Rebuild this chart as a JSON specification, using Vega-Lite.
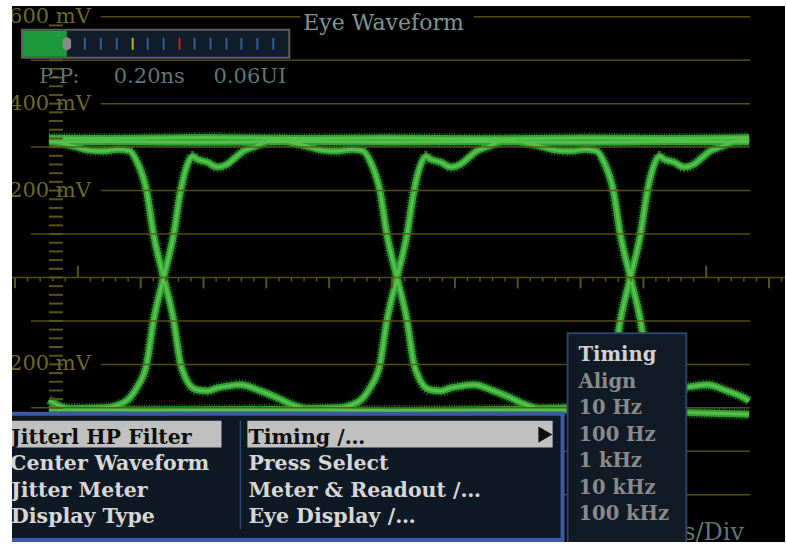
{
"$schema":"https://vega.github.io/schema/vega-lite/v6.json",
"width":786,"height":546,
"autosize":{"type":"fit","contains":"padding"},
"padding":{"left":11,"top":6,"right":0,"bottom":1},
"background":"white",
"config":{"view":{"fill":"black","stroke":null}},
"datasets":{
"traces":[
{"id":"TA","t":0.540,"v":321},{"id":"TA","t":1.5,"v":320},{"id":"TA","t":3.0,"v":322},{"id":"TA","t":4.5,"v":320},{"id":"TA","t":6.0,"v":321},{"id":"TA","t":7.5,"v":319},{"id":"TA","t":9.0,"v":321},{"id":"TA","t":10.5,"v":320},{"id":"TA","t":11.683,"v":322},
{"id":"TB","t":0.540,"v":312},{"id":"TB","t":1.5,"v":313},{"id":"TB","t":3.0,"v":311},{"id":"TB","t":4.5,"v":313},{"id":"TB","t":6.0,"v":312},{"id":"TB","t":7.5,"v":313},{"id":"TB","t":9.0,"v":311},{"id":"TB","t":10.5,"v":313},{"id":"TB","t":11.683,"v":312},
{"id":"BO","t":0.540,"v":-303},{"id":"BO","t":2.0,"v":-305},{"id":"BO","t":4.0,"v":-304},{"id":"BO","t":6.0,"v":-306},{"id":"BO","t":8.0,"v":-304},{"id":"BO","t":10.0,"v":-308},{"id":"BO","t":11.683,"v":-315},
{"id":"F0","t":0.540,"v":-282},{"id":"F0","t":0.70,"v":-295},{"id":"F0","t":0.85,"v":-303},
{"id":"F1","t":0.619,"v":313},{"id":"F1","t":0.936,"v":302},{"id":"F1","t":1.175,"v":293},{"id":"F1","t":1.413,"v":291},{"id":"F1","t":1.651,"v":295},{"id":"F1","t":1.825,"v":291},{"id":"F1","t":1.936,"v":268},{"id":"F1","t":2.095,"v":199},{"id":"F1","t":2.206,"v":98},{"id":"F1","t":2.365,"v":0},{"id":"F1","t":2.524,"v":-98},{"id":"F1","t":2.635,"v":-199},{"id":"F1","t":2.714,"v":-231},{"id":"F1","t":2.794,"v":-250},{"id":"F1","t":2.905,"v":-259},{"id":"F1","t":3.063,"v":-261},{"id":"F1","t":3.222,"v":-254},{"id":"F1","t":3.381,"v":-250},{"id":"F1","t":3.587,"v":-247},{"id":"F1","t":3.905,"v":-261},{"id":"F1","t":4.175,"v":-277},{"id":"F1","t":4.381,"v":-291},{"id":"F1","t":4.587,"v":-302},
{"id":"F2","t":4.333,"v":313},{"id":"F2","t":4.650,"v":302},{"id":"F2","t":4.889,"v":293},{"id":"F2","t":5.127,"v":291},{"id":"F2","t":5.365,"v":295},{"id":"F2","t":5.539,"v":291},{"id":"F2","t":5.650,"v":268},{"id":"F2","t":5.809,"v":199},{"id":"F2","t":5.920,"v":98},{"id":"F2","t":6.079,"v":0},{"id":"F2","t":6.238,"v":-98},{"id":"F2","t":6.349,"v":-199},{"id":"F2","t":6.428,"v":-231},{"id":"F2","t":6.508,"v":-250},{"id":"F2","t":6.619,"v":-259},{"id":"F2","t":6.777,"v":-261},{"id":"F2","t":6.936,"v":-254},{"id":"F2","t":7.095,"v":-250},{"id":"F2","t":7.301,"v":-247},{"id":"F2","t":7.619,"v":-261},{"id":"F2","t":7.889,"v":-277},{"id":"F2","t":8.095,"v":-291},{"id":"F2","t":8.301,"v":-302},
{"id":"F3","t":8.048,"v":313},{"id":"F3","t":8.365,"v":302},{"id":"F3","t":8.604,"v":293},{"id":"F3","t":8.842,"v":291},{"id":"F3","t":9.080,"v":295},{"id":"F3","t":9.254,"v":291},{"id":"F3","t":9.365,"v":268},{"id":"F3","t":9.524,"v":199},{"id":"F3","t":9.635,"v":98},{"id":"F3","t":9.794,"v":0},{"id":"F3","t":9.953,"v":-98},{"id":"F3","t":10.064,"v":-199},{"id":"F3","t":10.143,"v":-231},{"id":"F3","t":10.223,"v":-250},{"id":"F3","t":10.334,"v":-259},{"id":"F3","t":10.492,"v":-261},{"id":"F3","t":10.651,"v":-254},{"id":"F3","t":10.810,"v":-250},{"id":"F3","t":11.016,"v":-247},{"id":"F3","t":11.334,"v":-261},{"id":"F3","t":11.604,"v":-277},{"id":"F3","t":11.683,"v":-284},
{"id":"R1","t":0.778,"v":-302},{"id":"R1","t":1.413,"v":-300},{"id":"R1","t":1.651,"v":-293},{"id":"R1","t":1.825,"v":-277},{"id":"R1","t":1.936,"v":-254},{"id":"R1","t":2.095,"v":-199},{"id":"R1","t":2.206,"v":-98},{"id":"R1","t":2.365,"v":0},{"id":"R1","t":2.524,"v":98},{"id":"R1","t":2.635,"v":199},{"id":"R1","t":2.746,"v":261},{"id":"R1","t":2.825,"v":279},{"id":"R1","t":2.905,"v":272},{"id":"R1","t":3.063,"v":265},{"id":"R1","t":3.222,"v":254},{"id":"R1","t":3.381,"v":261},{"id":"R1","t":3.476,"v":272},{"id":"R1","t":3.635,"v":291},{"id":"R1","t":3.794,"v":300},{"id":"R1","t":4.016,"v":313},{"id":"R1","t":4.270,"v":318},
{"id":"R2","t":4.492,"v":-302},{"id":"R2","t":5.127,"v":-300},{"id":"R2","t":5.365,"v":-293},{"id":"R2","t":5.539,"v":-277},{"id":"R2","t":5.650,"v":-254},{"id":"R2","t":5.809,"v":-199},{"id":"R2","t":5.920,"v":-98},{"id":"R2","t":6.079,"v":0},{"id":"R2","t":6.238,"v":98},{"id":"R2","t":6.349,"v":199},{"id":"R2","t":6.460,"v":261},{"id":"R2","t":6.539,"v":279},{"id":"R2","t":6.619,"v":272},{"id":"R2","t":6.777,"v":265},{"id":"R2","t":6.936,"v":254},{"id":"R2","t":7.095,"v":261},{"id":"R2","t":7.190,"v":272},{"id":"R2","t":7.349,"v":291},{"id":"R2","t":7.508,"v":300},{"id":"R2","t":7.730,"v":313},{"id":"R2","t":7.984,"v":318},
{"id":"R3","t":8.207,"v":-302},{"id":"R3","t":8.842,"v":-300},{"id":"R3","t":9.080,"v":-293},{"id":"R3","t":9.254,"v":-277},{"id":"R3","t":9.365,"v":-254},{"id":"R3","t":9.524,"v":-199},{"id":"R3","t":9.635,"v":-98},{"id":"R3","t":9.794,"v":0},{"id":"R3","t":9.953,"v":98},{"id":"R3","t":10.064,"v":199},{"id":"R3","t":10.175,"v":261},{"id":"R3","t":10.254,"v":279},{"id":"R3","t":10.334,"v":272},{"id":"R3","t":10.492,"v":265},{"id":"R3","t":10.651,"v":254},{"id":"R3","t":10.810,"v":261},{"id":"R3","t":10.905,"v":272},{"id":"R3","t":11.064,"v":291},{"id":"R3","t":11.223,"v":300},{"id":"R3","t":11.445,"v":313},{"id":"R3","t":11.683,"v":318}
],
"hlines":[
{"v":600,"t":1.365,"t2":4.54},{"v":600,"t":7.302,"t2":11.698},
{"v":500,"t":0.254,"t2":11.698},{"v":400,"t":1.365,"t2":11.698},{"v":300,"t":0.254,"t2":11.698},{"v":200,"t":1.365,"t2":11.698},{"v":100,"t":0.254,"t2":11.698},
{"v":0,"t":-0.048,"t2":12.254},
{"v":-100,"t":0.254,"t2":11.698},{"v":-200,"t":1.365,"t2":11.698},{"v":-300,"t":0.254,"t2":11.698},{"v":-400,"t":0.254,"t2":11.698},{"v":-500,"t":0.254,"t2":11.698}
],
"yt":[{"v":580},{"v":560},{"v":540},{"v":520},{"v":500},{"v":480},{"v":460},{"v":440},{"v":420},{"v":400},{"v":380},{"v":360},{"v":340},{"v":320},{"v":300},{"v":280},{"v":260},{"v":240},{"v":220},{"v":200},{"v":180},{"v":160},{"v":140},{"v":120},{"v":100},{"v":80},{"v":60},{"v":40},{"v":20},{"v":0},{"v":-20},{"v":-40},{"v":-60},{"v":-80},{"v":-100},{"v":-120},{"v":-140},{"v":-160},{"v":-180},{"v":-200},{"v":-220},{"v":-240},{"v":-260},{"v":-280},{"v":-300}],
"xt":[{"t":0,"k":"M"},{"t":0.2,"k":"m"},{"t":0.4,"k":"m"},{"t":0.6,"k":"m"},{"t":0.8,"k":"m"},{"t":1,"k":"T"},{"t":1.2,"k":"m"},{"t":1.4,"k":"m"},{"t":1.6,"k":"m"},{"t":1.8,"k":"m"},{"t":2,"k":"M"},{"t":2.2,"k":"m"},{"t":2.4,"k":"m"},{"t":2.6,"k":"m"},{"t":2.8,"k":"m"},{"t":3,"k":"M"},{"t":3.2,"k":"m"},{"t":3.4,"k":"m"},{"t":3.6,"k":"m"},{"t":3.8,"k":"m"},{"t":4,"k":"M"},{"t":4.2,"k":"m"},{"t":4.4,"k":"m"},{"t":4.6,"k":"m"},{"t":4.8,"k":"m"},{"t":5,"k":"M"},{"t":5.2,"k":"m"},{"t":5.4,"k":"m"},{"t":5.6,"k":"m"},{"t":5.8,"k":"m"},{"t":6,"k":"M"},{"t":6.2,"k":"m"},{"t":6.4,"k":"m"},{"t":6.6,"k":"m"},{"t":6.8,"k":"m"},{"t":7,"k":"M"},{"t":7.2,"k":"m"},{"t":7.4,"k":"m"},{"t":7.6,"k":"m"},{"t":7.8,"k":"m"},{"t":8,"k":"M"},{"t":8.2,"k":"m"},{"t":8.4,"k":"m"},{"t":8.6,"k":"m"},{"t":8.8,"k":"m"},{"t":9,"k":"M"},{"t":9.2,"k":"m"},{"t":9.4,"k":"m"},{"t":9.6,"k":"m"},{"t":9.8,"k":"m"},{"t":10,"k":"M"},{"t":10.2,"k":"m"},{"t":10.4,"k":"m"},{"t":10.6,"k":"m"},{"t":10.8,"k":"m"},{"t":11,"k":"T"},{"t":11.2,"k":"m"},{"t":11.4,"k":"m"},{"t":11.6,"k":"m"},{"t":11.8,"k":"m"},{"t":12,"k":"M"},{"t":12.2,"k":"m"}],
"mvlabels":[{"label":"600 mV","v":600},{"label":"400 mV","v":400},{"label":"200 mV","v":200},{"label":"200 mV","v":-200}],
"mt":[{"t":1.111,"c":"b"},{"t":1.365,"c":"b"},{"t":1.619,"c":"b"},{"t":1.873,"c":"y"},{"t":2.111,"c":"b"},{"t":2.365,"c":"b"},{"t":2.619,"c":"r"},{"t":2.857,"c":"b"},{"t":3.111,"c":"b"},{"t":3.365,"c":"b"},{"t":3.603,"c":"b"},{"t":3.857,"c":"b"},{"t":4.111,"c":"b"}],
"pp":[{"label":"P-P:","t":0.381},{"label":"0.20ns","t":1.571},{"label":"0.06UI","t":3.159}],
"menu":[
{"label":"Jitterl HP Filter","t":-0.063,"v":-383,"sel":true},
{"label":"Center Waveform","t":-0.078,"v":-443,"sel":false},
{"label":"Jitter Meter","t":-0.063,"v":-504,"sel":false},
{"label":"Display Type","t":-0.063,"v":-564,"sel":false},
{"label":"Timing /…","t":3.714,"v":-383,"sel":true},
{"label":"Press Select","t":3.714,"v":-443,"sel":false},
{"label":"Meter & Readout /…","t":3.714,"v":-504,"sel":false},
{"label":"Eye Display /…","t":3.714,"v":-564,"sel":false}
],
"sub":[
{"label":"Timing","v":-193,"head":true},
{"label":"Align","v":-254,"head":false},
{"label":"10 Hz","v":-315,"head":false},
{"label":"100 Hz","v":-376,"head":false},
{"label":"1 kHz","v":-437,"head":false},
{"label":"10 kHz","v":-499,"head":false},
{"label":"100 kHz","v":-559,"head":false}
]
},
"layer":[
{"data":{"name":"traces"},"mark":{"type":"line","strokeWidth":11,"color":"#1f7d23","opacity":0.85,"strokeDash":[1,1.5],"strokeCap":"butt","interpolate":"monotone"},
 "encoding":{"x":{"field":"t","type":"quantitative","scale":{"domain":[-0.048,12.254],"nice":false,"zero":false},"axis":null},"y":{"field":"v","type":"quantitative","scale":{"domain":[-608.7,624.7],"nice":false,"zero":false},"axis":null},"detail":{"field":"id"}}},
{"data":{"name":"traces"},"mark":{"type":"line","strokeWidth":7,"color":"#2fa032","opacity":1,"strokeCap":"butt","interpolate":"monotone"},
 "encoding":{"x":{"field":"t","type":"quantitative","scale":{"domain":[-0.048,12.254],"nice":false,"zero":false},"axis":null},"y":{"field":"v","type":"quantitative","scale":{"domain":[-608.7,624.7],"nice":false,"zero":false},"axis":null},"detail":{"field":"id"}}},
{"data":{"name":"traces"},"mark":{"type":"line","strokeWidth":3,"color":"#56c04a","opacity":1,"strokeCap":"butt","interpolate":"monotone"},
 "encoding":{"x":{"field":"t","type":"quantitative","scale":{"domain":[-0.048,12.254],"nice":false,"zero":false},"axis":null},"y":{"field":"v","type":"quantitative","scale":{"domain":[-608.7,624.7],"nice":false,"zero":false},"axis":null},"detail":{"field":"id"}}},
{"data":{"name":"hlines"},"mark":{"type":"rule","color":"#5a5418","strokeWidth":1.5,"opacity":0.9},
 "encoding":{"x":{"field":"t","type":"quantitative","scale":{"domain":[-0.048,12.254],"nice":false,"zero":false},"axis":null},"x2":{"field":"t2"},"y":{"field":"v","type":"quantitative","scale":{"domain":[-608.7,624.7],"nice":false,"zero":false},"axis":null}}},
{"data":{"name":"yt"},"mark":{"type":"rule","color":"#5a5418","strokeWidth":2},
 "encoding":{"x":{"datum":0.540,"type":"quantitative","scale":{"domain":[-0.048,12.254],"nice":false,"zero":false},"axis":null},"x2":{"datum":0.762},"y":{"field":"v","type":"quantitative","scale":{"domain":[-608.7,624.7],"nice":false,"zero":false},"axis":null}}},
{"data":{"name":"xt"},"transform":[{"filter":"datum.k == 'm'"}],"mark":{"type":"rule","color":"#5a5418","strokeWidth":1.5},
 "encoding":{"x":{"field":"t","type":"quantitative","scale":{"domain":[-0.048,12.254],"nice":false,"zero":false},"axis":null},"y":{"datum":0,"type":"quantitative","scale":{"domain":[-608.7,624.7],"nice":false,"zero":false},"axis":null},"y2":{"datum":-9}}},
{"data":{"name":"xt"},"transform":[{"filter":"datum.k == 'M'"}],"mark":{"type":"rule","color":"#5a5418","strokeWidth":2},
 "encoding":{"x":{"field":"t","type":"quantitative","scale":{"domain":[-0.048,12.254],"nice":false,"zero":false},"axis":null},"y":{"datum":0,"type":"quantitative","scale":{"domain":[-608.7,624.7],"nice":false,"zero":false},"axis":null},"y2":{"datum":-25}}},
{"data":{"name":"xt"},"transform":[{"filter":"datum.k == 'T'"}],"mark":{"type":"rule","color":"#5a5418","strokeWidth":2},
 "encoding":{"x":{"field":"t","type":"quantitative","scale":{"domain":[-0.048,12.254],"nice":false,"zero":false},"axis":null},"y":{"datum":0,"type":"quantitative","scale":{"domain":[-608.7,624.7],"nice":false,"zero":false},"axis":null},"y2":{"datum":27}}},
{"data":{"name":"mvlabels"},"mark":{"type":"text","align":"left","baseline":"middle","font":"DejaVu Serif","fontSize":21,"color":"#6c682c","clip":true},
 "encoding":{"x":{"datum":-0.095,"type":"quantitative","scale":{"domain":[-0.048,12.254],"nice":false,"zero":false},"axis":null},"y":{"field":"v","type":"quantitative","scale":{"domain":[-608.7,624.7],"nice":false,"zero":false},"axis":null},"text":{"field":"label"}}},
{"data":{"values":[{"label":"Eye Waveform"}]},"mark":{"type":"text","align":"left","baseline":"alphabetic","font":"DejaVu Serif","fontSize":22,"color":"#7f9393"},
 "encoding":{"x":{"datum":4.587,"type":"quantitative","scale":{"domain":[-0.048,12.254],"nice":false,"zero":false},"axis":null},"y":{"datum":569.8,"type":"quantitative","scale":{"domain":[-608.7,624.7],"nice":false,"zero":false},"axis":null},"text":{"field":"label"}}},
{"data":{"name":"pp"},"mark":{"type":"text","align":"left","baseline":"alphabetic","font":"DejaVu Serif","fontSize":21,"color":"#5f7777"},
 "encoding":{"x":{"field":"t","type":"quantitative","scale":{"domain":[-0.048,12.254],"nice":false,"zero":false},"axis":null},"y":{"datum":448.5,"type":"quantitative","scale":{"domain":[-608.7,624.7],"nice":false,"zero":false},"axis":null},"text":{"field":"label"}}},
{"data":{"values":[{}]},"mark":{"type":"rect","fill":"#121c28","stroke":"#5c5c5c","strokeWidth":2},
 "encoding":{"x":{"datum":0.111,"type":"quantitative","scale":{"domain":[-0.048,12.254],"nice":false,"zero":false},"axis":null},"x2":{"datum":4.365},"y":{"datum":569.8,"type":"quantitative","scale":{"domain":[-608.7,624.7],"nice":false,"zero":false},"axis":null},"y2":{"datum":505.7}}},
{"data":{"values":[{}]},"mark":{"type":"rect","fill":"#1c9a3c"},
 "encoding":{"x":{"datum":0.127,"type":"quantitative","scale":{"domain":[-0.048,12.254],"nice":false,"zero":false},"axis":null},"x2":{"datum":0.825},"y":{"datum":567.5,"type":"quantitative","scale":{"domain":[-608.7,624.7],"nice":false,"zero":false},"axis":null},"y2":{"datum":508}}},
{"data":{"name":"mt"},"mark":{"type":"rule","strokeWidth":2},
 "encoding":{"x":{"field":"t","type":"quantitative","scale":{"domain":[-0.048,12.254],"nice":false,"zero":false},"axis":null},"y":{"datum":551.5,"type":"quantitative","scale":{"domain":[-608.7,624.7],"nice":false,"zero":false},"axis":null},"y2":{"datum":524},"color":{"field":"c","type":"nominal","scale":{"domain":["b","y","r"],"range":["#2f5f92","#b8b030","#c02020"]},"legend":null}}},
{"data":{"values":[{}]},"mark":{"type":"point","shape":"M0,-1 L0.6,-0.6 L0.6,0.6 L0,1 L-0.6,0.6 L-0.6,-0.6 Z","size":196,"filled":true,"color":"#8a8a8a","opacity":1},
 "encoding":{"x":{"datum":0.825,"type":"quantitative","scale":{"domain":[-0.048,12.254],"nice":false,"zero":false},"axis":null},"y":{"datum":537.8,"type":"quantitative","scale":{"domain":[-608.7,624.7],"nice":false,"zero":false},"axis":null}}},
{"data":{"values":[{"label":"ns/Div"}]},"mark":{"type":"text","align":"right","baseline":"alphabetic","font":"DejaVu Serif","fontSize":24,"color":"#5d7878"},
 "encoding":{"x":{"datum":11.603,"type":"quantitative","scale":{"domain":[-0.048,12.254],"nice":false,"zero":false},"axis":null},"y":{"datum":-603.5,"type":"quantitative","scale":{"domain":[-608.7,624.7],"nice":false,"zero":false},"axis":null},"text":{"field":"label"}}},
{"data":{"values":[{}]},"mark":{"type":"rect","fill":"#0f1923","stroke":"#3a5aa8","strokeWidth":4,"clip":true},
 "encoding":{"x":{"datum":-0.3,"type":"quantitative","scale":{"domain":[-0.048,12.254],"nice":false,"zero":false},"axis":null},"x2":{"datum":8.714},"y":{"datum":-313.5,"type":"quantitative","scale":{"domain":[-608.7,624.7],"nice":false,"zero":false},"axis":null},"y2":{"datum":-604.1}}},
{"data":{"values":[{}]},"mark":{"type":"rect","fill":"#c0c0c0","clip":true},
 "encoding":{"x":{"datum":-0.3,"type":"quantitative","scale":{"domain":[-0.048,12.254],"nice":false,"zero":false},"axis":null},"x2":{"datum":3.286},"y":{"datum":-329.5,"type":"quantitative","scale":{"domain":[-608.7,624.7],"nice":false,"zero":false},"axis":null},"y2":{"datum":-391.3}}},
{"data":{"values":[{}]},"mark":{"type":"rect","fill":"#c0c0c0"},
 "encoding":{"x":{"datum":3.698,"type":"quantitative","scale":{"domain":[-0.048,12.254],"nice":false,"zero":false},"axis":null},"x2":{"datum":8.556},"y":{"datum":-329.5,"type":"quantitative","scale":{"domain":[-608.7,624.7],"nice":false,"zero":false},"axis":null},"y2":{"datum":-391.3}}},
{"data":{"values":[{}]},"mark":{"type":"point","shape":"triangle-right","size":260,"filled":true,"color":"#101010","opacity":1},
 "encoding":{"x":{"datum":8.44,"type":"quantitative","scale":{"domain":[-0.048,12.254],"nice":false,"zero":false},"axis":null},"y":{"datum":-361.6,"type":"quantitative","scale":{"domain":[-608.7,624.7],"nice":false,"zero":false},"axis":null}}},
{"data":{"values":[{}]},"mark":{"type":"rule","color":"#27467a","strokeWidth":1.5},
 "encoding":{"x":{"datum":3.587,"type":"quantitative","scale":{"domain":[-0.048,12.254],"nice":false,"zero":false},"axis":null},"y":{"datum":-329.5,"type":"quantitative","scale":{"domain":[-608.7,624.7],"nice":false,"zero":false},"axis":null},"y2":{"datum":-579}}},
{"data":{"name":"menu"},"mark":{"type":"text","align":"left","baseline":"alphabetic","font":"DejaVu Serif","fontWeight":"bold","fontSize":20.5,"clip":true},
 "encoding":{"x":{"field":"t","type":"quantitative","scale":{"domain":[-0.048,12.254],"nice":false,"zero":false},"axis":null},"y":{"field":"v","type":"quantitative","scale":{"domain":[-608.7,624.7],"nice":false,"zero":false},"axis":null},"text":{"field":"label"},"color":{"condition":{"test":"datum.sel","value":"#0d0d0d"},"value":"#d6d6d6"}}},
{"data":{"values":[{}]},"mark":{"type":"rect","fill":"#111a25","stroke":"#2a4468","strokeWidth":2,"clip":true},
 "encoding":{"x":{"datum":8.794,"type":"quantitative","scale":{"domain":[-0.048,12.254],"nice":false,"zero":false},"axis":null},"x2":{"datum":10.683},"y":{"datum":-128.1,"type":"quantitative","scale":{"domain":[-608.7,624.7],"nice":false,"zero":false},"axis":null},"y2":{"datum":-620}}},
{"data":{"name":"sub"},"mark":{"type":"text","align":"left","baseline":"alphabetic","font":"DejaVu Serif","fontWeight":"bold","fontSize":19.5},
 "encoding":{"x":{"datum":8.968,"type":"quantitative","scale":{"domain":[-0.048,12.254],"nice":false,"zero":false},"axis":null},"y":{"field":"v","type":"quantitative","scale":{"domain":[-608.7,624.7],"nice":false,"zero":false},"axis":null},"text":{"field":"label"},"color":{"condition":{"test":"datum.head","value":"#d2d2d2"},"value":"#8a8a8a"}}}
]
}
